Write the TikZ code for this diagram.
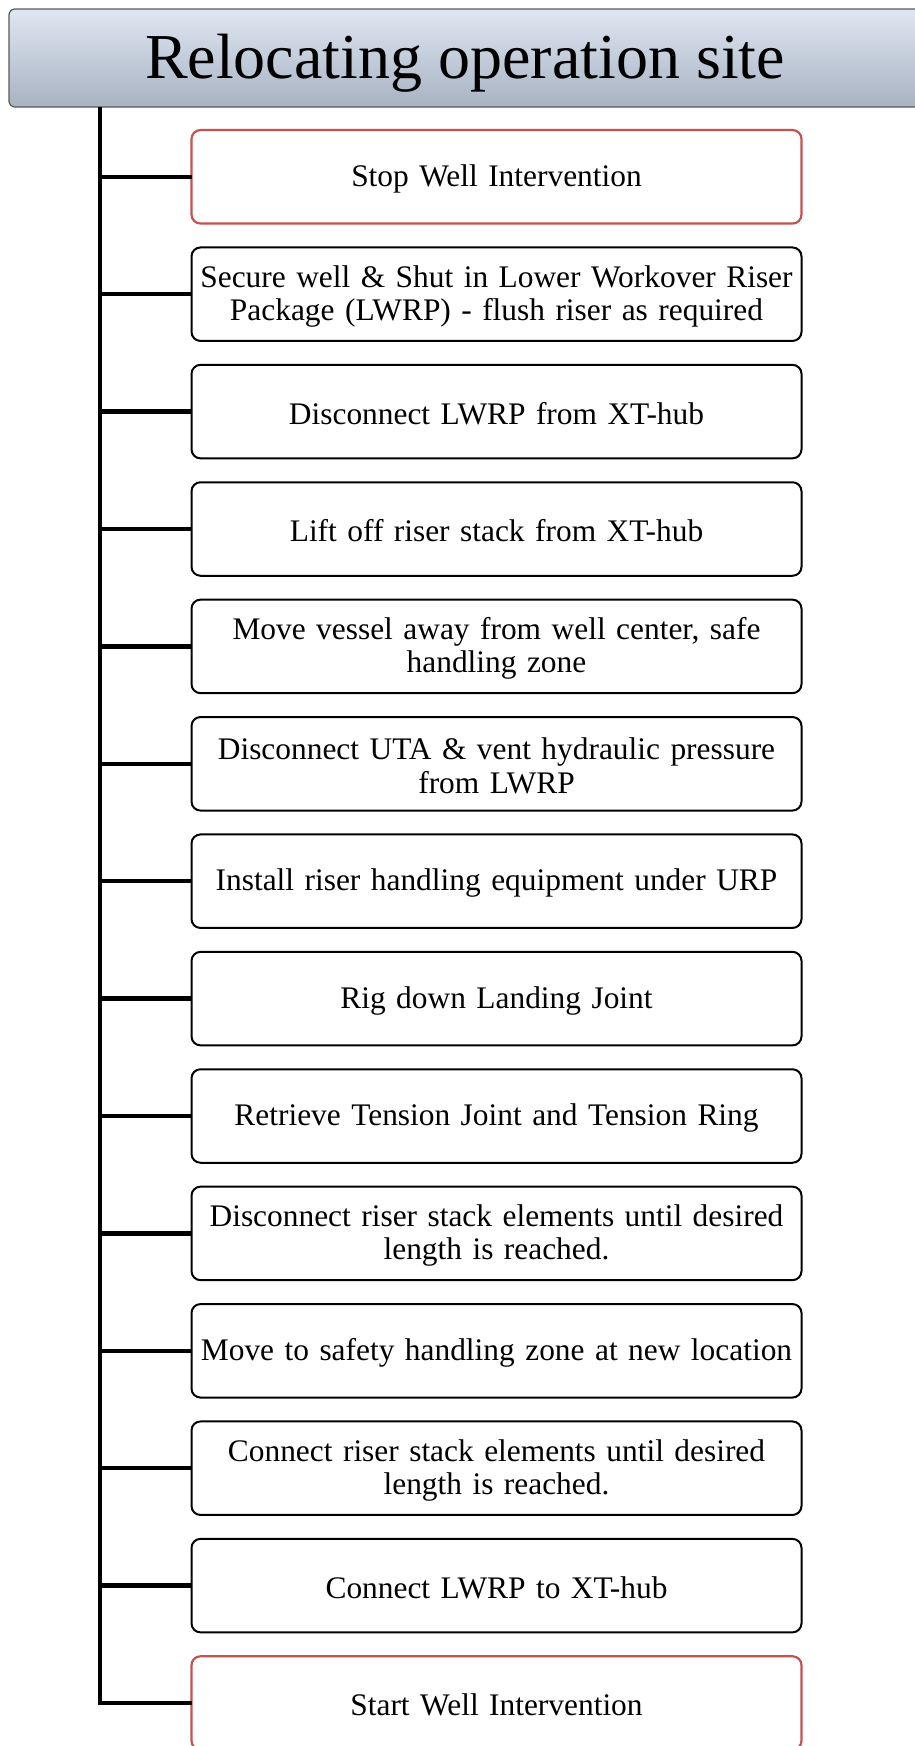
\documentclass[tikz,border=0pt]{standalone}
\usepackage{fontspec}
\setmainfont{Liberation Serif}
\usetikzlibrary{positioning}

\definecolor{offred}{RGB}{198,82,80}
\definecolor{headtop}{RGB}{223,231,243}
\definecolor{headbot}{RGB}{168,178,193}

\begin{document}
\begin{tikzpicture}[
  node distance=58.7pt,
  on grid,
  header/.style={draw=black!65,rounded corners=3pt,line width=.6pt,
    top color=headtop,bottom color=headbot,
    minimum width=456pt,minimum height=49pt,inner sep=0pt,
    text height=26pt,text depth=6pt,
    font=\fontsize{32}{36}\selectfont},
  stage/.style={draw,rounded corners=4.5pt,line width=1pt,fill=white,
    minimum width=305pt,minimum height=46.75pt,text width=298pt,
    inner xsep=3.5pt,inner ysep=0pt,outer sep=0pt,align=center,
    execute at begin node={\rule{0pt}{13pt}},
    font=\fontsize{15.7}{16.7}\selectfont},
  milestone/.style={stage,draw=offred,line width=1.1pt},
  trunk/.style={line width=2.2pt}
]
  \useasboundingbox (0,0) rectangle (457.5pt,-873pt);
  \clip (0,0) rectangle (457.5pt,-873pt);

  \node[header] (title) at (232.5pt,-29pt) {Relocating operation site};

  \node[milestone] (stop) at (248.25pt,-88.4pt) {Stop Well Intervention};
  \node[stage,below=of stop] (secure) {Secure well \& Shut in Lower Workover Riser\\Package (LWRP) - flush riser as required};
  \node[stage,below=of secure] (unhook) {Disconnect LWRP from XT-hub};
  \node[stage,below=of unhook] (liftoff) {Lift off riser stack from XT-hub};
  \node[stage,below=of liftoff] (moveaway) {Move vessel away from well center, safe\\handling zone};
  \node[stage,below=of moveaway] (uta) {Disconnect UTA \& vent hydraulic pressure\\from LWRP};
  \node[stage,below=of uta] (rigup) {Install riser handling equipment under URP};
  \node[stage,below=of rigup] (landing) {Rig down Landing Joint};
  \node[stage,below=of landing] (tension) {Retrieve Tension Joint and Tension Ring};
  \node[stage,below=of tension] (shorten) {Disconnect riser stack elements until desired\\length is reached.};
  \node[stage,below=of shorten] (transit) {Move to safety handling zone at new location};
  \node[stage,below=of transit] (lengthen) {Connect riser stack elements until desired\\length is reached.};
  \node[stage,below=of lengthen] (hookup) {Connect LWRP to XT-hub};
  \node[milestone,below=of hookup] (start) {Start Well Intervention};

  % spine from the header down to the last step
  \coordinate (spine) at (50pt,-53.5pt);
  \draw[trunk] (spine) |- (start.west);
  \foreach \n in {stop,secure,unhook,liftoff,moveaway,uta,rigup,landing,tension,shorten,transit,lengthen,hookup}
    \draw[trunk] (spine |- \n.west) -- (\n.west);
\end{tikzpicture}
\end{document}
